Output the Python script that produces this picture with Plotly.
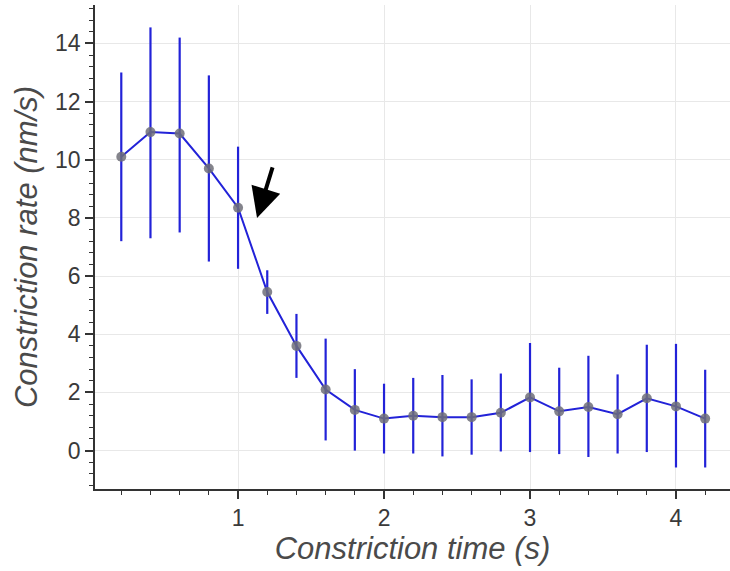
import plotly.graph_objects as go

time_s = [0.2, 0.4, 0.6, 0.8, 1.0, 1.2, 1.4, 1.6, 1.8, 2.0, 2.2, 2.4, 2.6, 2.8,
          3.0, 3.2, 3.4, 3.6, 3.8, 4.0, 4.2]
rate = [10.1, 10.95, 10.9, 9.7, 8.35, 5.45, 3.6, 2.1, 1.4, 1.1, 1.2, 1.15, 1.15, 1.3,
        1.83, 1.35, 1.5, 1.25, 1.8, 1.52, 1.1]
err_top = [13.0, 14.55, 14.2, 12.9, 10.45, 6.2, 4.7, 3.85, 2.8, 2.3, 2.5, 2.6, 2.45, 2.65,
           3.7, 2.85, 3.26, 2.62, 3.64, 3.67, 2.78]
err_bottom = [7.2, 7.3, 7.5, 6.5, 6.25, 4.7, 2.5, 0.35, 0.0, -0.1, -0.1, -0.2, -0.14, -0.03,
              -0.05, -0.12, -0.22, -0.1, -0.05, -0.58, -0.58]

plus = [t - r for t, r in zip(err_top, rate)]
minus = [r - b for r, b in zip(rate, err_bottom)]

BLUE = "#2222d8"
fig = go.Figure()
fig.add_trace(go.Scatter(
    x=time_s, y=rate, mode="lines+markers",
    line=dict(color=BLUE, width=2),
    marker=dict(size=10, color="rgba(110,110,120,0.85)", line=dict(width=0)),
    error_y=dict(type="data", symmetric=False, array=plus, arrayminus=minus,
                 color=BLUE, thickness=2.2, width=0),
    showlegend=False,
))

fig.add_annotation(
    x=1.13, y=8.0, xref="x", yref="y", text="",
    showarrow=True, arrowhead=2, arrowsize=1.5, arrowwidth=4, arrowcolor="black",
    ax=16, ay=-52,
)

font_family = "Liberation Sans, Arial, Helvetica, sans-serif"
axis_common = dict(
    showline=True, linecolor="#333", linewidth=1.5,
    ticks="outside", ticklen=8, tickwidth=1.5, tickcolor="#333",
    showgrid=True, gridcolor="#e8e8e8", gridwidth=1,
    zeroline=False,
    tickfont=dict(family=font_family, size=23, color="#3a3a3a"),
)

fig.update_layout(
    width=730, height=571,
    margin=dict(l=95, r=0, t=5, b=82),
    plot_bgcolor="white", paper_bgcolor="white",
    xaxis=dict(
        range=[0.02, 4.37], tickvals=[1, 2, 3, 4],
        minor=dict(dtick=0.2, tick0=0, ticks="outside", ticklen=4, tickwidth=1.2,
                   tickcolor="#333", showgrid=False),
        title=dict(text="Constriction time (s)", standoff=6,
                   font=dict(family=font_family, size=31, color="#4a4a4a", style="italic")),
        automargin=False,
        **axis_common,
    ),
    yaxis=dict(
        range=[-1.32, 15.32], tickvals=[0, 2, 4, 6, 8, 10, 12, 14],
        minor=dict(dtick=0.4, tick0=0, ticks="outside", ticklen=4, tickwidth=1.2,
                   tickcolor="#333", showgrid=False),
        title=dict(text="Constriction rate (nm/s)", standoff=8,
                   font=dict(family=font_family, size=31, color="#4a4a4a", style="italic")),
        automargin=False,
        **axis_common,
    ),
)

fig.write_html("out.html")
